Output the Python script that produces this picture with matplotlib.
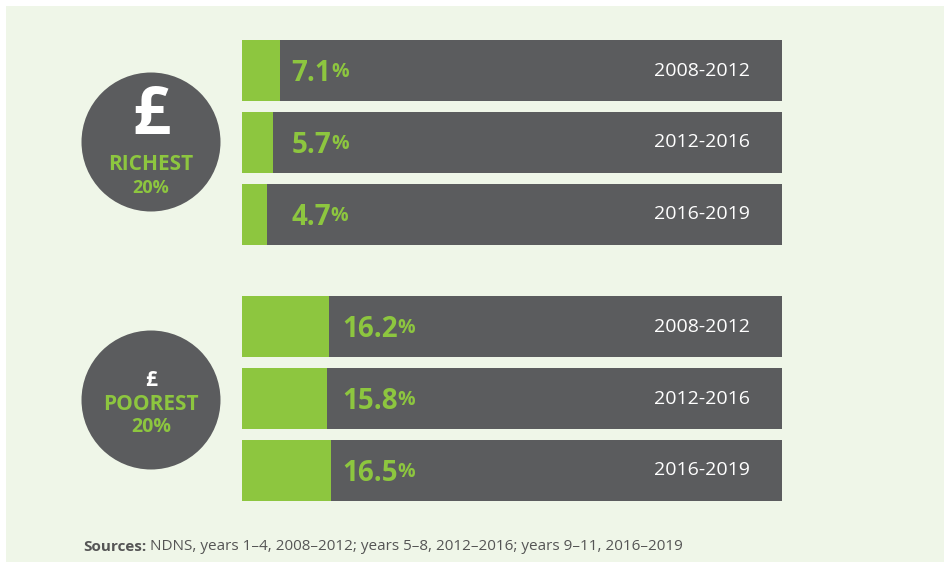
import matplotlib.pyplot as plt
import matplotlib.patches as patches
import numpy as np

# data
periods = ['2008-2012', '2012-2016', '2016-2019']
richest = [7.1, 5.7, 4.7]
poorest = [16.2, 15.8, 16.5]
groups = ['RICHEST', 'POOREST']
source = 'NDNS, years 1–4, 2008–2012; years 5–8, 2012–2016; years 9–11, 2016–2019'

green = '#8dc63f'
dark = '#5b5c5e'
bg = '#eff6e8'

plt.rcParams['font.family'] = ['Open Sans', 'DejaVu Sans']

W, H = 944, 562
fig = plt.figure(figsize=(W / 100, H / 100), dpi=100)

# background layer in pixel coords
ax_bg = fig.add_axes([0, 0, 1, 1])
ax_bg.set_xlim(0, W)
ax_bg.set_ylim(H, 0)
ax_bg.axis('off')
ax_bg.add_patch(patches.Rectangle((6, 6), W, H, facecolor=bg, edgecolor='none'))

# circles
for cy in [142, 400]:
    ax_bg.add_patch(patches.Circle((151, cy), 69.5, facecolor=dark, edgecolor='none'))
ax_bg.text(151, 117, '£', color='white', fontsize=48, fontweight='bold',
           ha='center', va='center')
ax_bg.text(151, 165, groups[0], color=green, fontsize=15, fontweight='bold',
           ha='center', va='center')
ax_bg.text(151, 188, '20%', color=green, fontsize=13, fontweight='bold',
           ha='center', va='center')
ax_bg.text(151, 380, '£', color='white', fontsize=15, fontweight='bold',
           ha='center', va='center')
ax_bg.text(151, 404, groups[1], color=green, fontsize=15, fontweight='bold',
           ha='center', va='center')
ax_bg.text(151, 427, '20%', color=green, fontsize=14, fontweight='bold',
           ha='center', va='center')

# sources
t = ax_bg.text(83, 551, 'Sources:', color='#555555', fontsize=11, fontweight='bold',
               ha='left', va='baseline')
ax_bg.annotate(' ' + source, xy=(1, 0), xycoords=t, color='#555555', fontsize=11,
               ha='left', va='bottom')

# bars
ax = fig.add_axes([242 / W, (H - 501) / H, 540 / W, 461 / H])
ax.axis('off')
ypos = [np.arange(3), 3.57 + np.arange(3)]
bh = 0.85
ax.set_xlim(0, 100)
ax.set_ylim(ypos[1][-1] + bh / 2, -bh / 2)

for vals, ys in zip([richest, poorest], ypos):
    ax.barh(ys, [100] * 3, height=bh, color=dark, linewidth=0)
    ax.barh(ys, vals, height=bh, color=green, linewidth=0)
    lx = max(vals) + 2.0
    for y, v, p in zip(ys, vals, periods):
        num = ax.text(lx, y + 0.04, f'{v}', color=green, fontsize=20, fontweight='bold',
                      ha='left', va='center')
        ax.annotate('%', xy=(1, 0.2), xycoords=num, color=green, fontsize=14,
                    fontweight='bold', ha='left', va='bottom')
        ax.text(94, y, p, color='white', fontsize=14, ha='right', va='center')

fig.savefig('out.png', dpi=100, facecolor='white')
